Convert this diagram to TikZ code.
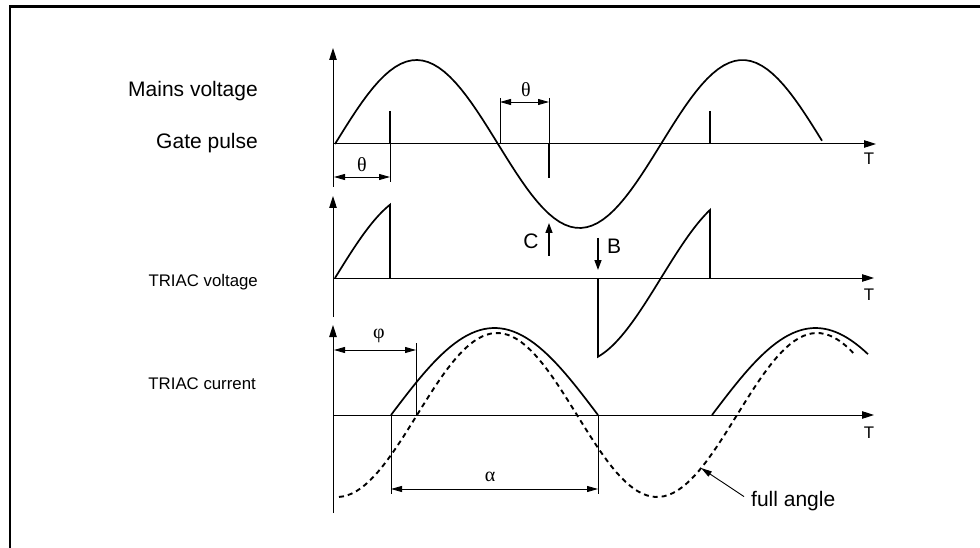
\documentclass[tikz,border=0pt]{standalone}
\usepackage{fontspec}
\setmainfont{Liberation Sans}
\newfontfamily\greekfont{Liberation Serif}
\usetikzlibrary{arrows.meta}

\begin{document}
\begin{tikzpicture}[x=1pt,y=-1pt,
		wave/.style={line width=1.7pt},
		axis/.style={line width=1pt,-{Triangle[length=12pt,width=7.5pt]}},
		dimline/.style={line width=0.9pt,{Triangle[length=11pt,width=6pt]}-{Triangle[length=11pt,width=6pt]}},
		helpline/.style={line width=0.9pt},
		pointer/.style={line width=1.4pt,-{Triangle[length=10pt,width=7pt]}},
		biglabel/.style={font=\fontsize{21}{24}\selectfont, inner sep=0pt},
		smalllabel/.style={font=\fontsize{16.8}{20}\selectfont, inner sep=0pt},
		greeklabel/.style={font=\fontsize{20}{24}\greekfont, inner sep=0pt}]
	\useasboundingbox (0,0) rectangle (980,548);
	% frame
	\draw[line width=2.5pt] (10,548) -- (10,6.5) -- (980,6.5);

	% mains voltage and gate pulse
	\node[biglabel, anchor=base east] (mains) at (258,97) {Mains voltage};
	\node[biglabel, anchor=base east] (gate) at (258,149) {Gate pulse};
	\draw[axis] (333,187) -- (333,48);
	\draw[axis] (333,144) -- (876,144);
	\node[smalllabel, anchor=base] (t1) at (869,165) {T};
	\draw[wave] plot[domain=335:822, samples=90] (\x,{144-84*sin(180/163*(\x-335))});
	\draw[wave] (390,111) -- (390,144);
	\draw[wave] (549,144) -- (549,178);
	\draw[wave] (710,111) -- (710,144);
	% delay theta
	\draw[helpline] (390,144) -- (390,182);
	\draw[dimline] (334,177) -- (390,177);
	\node[greeklabel] (theta1) at (362,165) {θ};
	\draw[helpline] (500,98) -- (500,144);
	\draw[helpline] (549,98) -- (549,144);
	\draw[dimline] (500,102) -- (549,102);
	\node[greeklabel] (theta2) at (526,90) {θ};

	% triac voltage
	\node[smalllabel, anchor=base east] (tvolt) at (258,286) {TRIAC voltage};
	\draw[axis] (333,317) -- (333,196);
	\draw[axis] (333,278) -- (874,278);
	\node[smalllabel, anchor=base] (t2) at (869,300) {T};
	\draw[wave] plot[domain=335:390, samples=20] (\x,{278-84*sin(180/163*(\x-335))}) -- (390,278);
	\draw[wave] (598,278) -- plot[domain=598:710, samples=40] (\x,{278-84*sin(180/163*(\x-335))}) -- (710,278);
	\node[biglabel, anchor=base] (clbl) at (531,249) {C};
	\coordinate (ctip) at (549,223);
	\draw[pointer] (549,256) -- (ctip);
	\node[biglabel, anchor=base] (blbl) at (614,254) {B};
	\coordinate (btip) at (598,270);
	\draw[pointer] (598,238) -- (btip);

	% triac current
	\node[smalllabel, anchor=base east] (tcurr) at (256,389) {TRIAC current};
	\draw[axis] (333,513) -- (333,325);
	\draw[axis] (333,415) -- (874,415);
	\node[smalllabel, anchor=base] (t3) at (869,438) {T};
	\draw[line width=1.9pt, dash pattern=on 5pt off 4pt] plot[domain=339:855, samples=120] (\x,{415-82*sin(1.125*(\x-417))});
	\draw[wave] plot[domain=391:598, samples=50] (\x,{415-87*sin(180/207*(\x-391))});
	\draw[wave] plot[domain=712:868, samples=40] (\x,{415-87*sin(180/207*(\x-712))});
	% phi
	\draw[helpline] (416,343) -- (416,415);
	\draw[dimline] (334,350) -- (416,350);
	\node[greeklabel] (phi) at (379,336) {φ};
	% alpha
	\draw[helpline] (391,415) -- (391,494);
	\draw[helpline] (598,415) -- (598,494);
	\draw[dimline] (391,489) -- (598,489);
	\node[greeklabel] (alpha) at (490,477) {α};
	% full angle
	\node[biglabel, anchor=base west] (full) at (751,506) {full angle};
	\coordinate (fulltip) at (701,468);
	\draw[helpline, -{Triangle[length=11pt,width=6pt]}] ([shift={(-7pt,-6pt)}]full.north west) -- (fulltip);
\end{tikzpicture}
\end{document}
